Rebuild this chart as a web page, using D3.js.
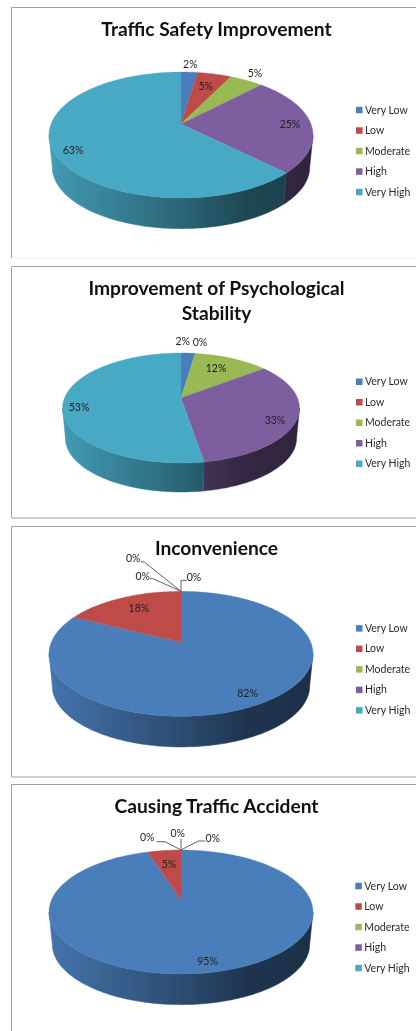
<!DOCTYPE html>
<html>
<head>
<meta charset="utf-8">
<script src="https://cdn.jsdelivr.net/npm/d3@7"></script>
<style>
  html, body { margin: 0; padding: 0; background: #fff; }
  svg { display: block; filter: blur(0.5px); }
  text { font-family: Lato, "Open Sans", sans-serif; }
</style>
</head>
<body>
<script>
const categories = ['Very Low', 'Low', 'Moderate', 'High', 'Very High'];
const colors = ['#4a7ebb', '#be4b48', '#98b954', '#7d5fa0', '#48a9c5'];

const titles = [
  ['Traffic Safety Improvement'],
  ['Improvement of Psychological', 'Stability'],
  ['Inconvenience'],
  ['Causing Traffic Accident']
];

// shares in percent
const trafficSafety = [2.4, 4.9, 4.9, 25.2, 62.6];
const psychological = [2.3, 0, 12.2, 32.9, 52.6];
const inconvenience = [82.4, 17.6, 0, 0, 0];
const causingAccident = [95.1, 4.9, 0, 0, 0];
const seriesValues = [trafficSafety, psychological, inconvenience, causingAccident];

// page layout of each panel: ax/ay is where the slices meet, far/near the
// back and front rim measured from there (the tilt makes them unequal)
const panels = [
  { frame: [7.5, 258], frameBottom: '#f0f0f0', titleY: [29.3], ax: 181, ay: 124, rx: 132, far: 52, near: 74, depth: 32.5, legendX: 356, legendY: 110 },
  { frame: [266.5, 518], frameBottom: '#a0a0a0', titleY: [288.3, 313.3], ax: 181, ay: 398, rx: 118.5, far: 45, near: 65, depth: 30.6, legendX: 356, legendY: 381.7 },
  { frame: [526.5, 777], frameBottom: '#a0a0a0', titleY: [548.3], ax: 181, ay: 642.3, rx: 132, far: 51, near: 74, depth: 32.5, legendX: 356, legendY: 628.3 },
  { frame: [784.5, 1040], frameBottom: '#a0a0a0', titleY: [806.7], ax: 181, ay: 900, rx: 132, far: 50, near: 74, depth: 32.5, legendX: 355.3, legendY: 886 }
];

// label nudges from the middle of each slice's rim, in px
const labelOffsets = [
  [[1, -8], [-8.7, 12], [8.6, -7.3], [-20.7, 1.5], [20.6, 0.7]],
  [[-5.4, -11.4], [4.8, -10.7], [-15.7, 10.4], [-22.2, 1.2], [15.9, 4.9]],
  [[-14.2, -9.7], [16.8, 10.3], [13, -13.7], [-38.3, -15.3], [-47.7, -32.7]],
  [[2, -11.6], [4.7, 13.8], [31.7, -11.7], [-3.3, -16.7], [-33.7, -12.3]]
];

// elbows of the leader lines for the 0% labels, same origin
const leaders = [
  [],
  [],
  [null, null, [[0, -11], [5.7, -11]], [[-28.3, -12.7], [-31, -12.7]], [[-36.7, -29.3], [-40.3, -29.3]]],
  [null, null, [[17.3, -9], [24, -9]], [[0, -11]], [[-16, -8.3], [-24.3, -8.3]]]
];

const width = 416;
const height = 1031;
const wallScale = 0.975;
const step = 0.02;

const svg = d3.select('body').append('svg')
  .attr('width', width)
  .attr('height', height)
  .attr('viewBox', `0 0 ${width} ${height}`);
const defs = svg.append('defs');

const pie = d3.pie().sort(null).value(d => d);
const line = d3.line();
const format = d3.format('.0f');

// circle seen in perspective: maps an angle (clockwise from the top) to the page
function projector(p) {
  const k = (p.far - p.near) / (p.far + p.near);
  const a = p.near * (1 + k);
  const b = p.rx * Math.sqrt(1 - k * k);
  const rim = t => {
    const d = 1 + k * -Math.cos(t);
    return [p.ax + b * Math.sin(t) / d, p.ay - a * Math.cos(t) / d];
  };
  const base = t => {
    const r = rim(t);
    return [p.ax + (r[0] - p.ax) * wallScale, p.ay + p.depth + (r[1] - p.ay) * wallScale];
  };
  return { k, rim, base };
}

function angles(a0, a1) {
  return d3.range(a0, a1, step).concat([a1]);
}

function wallGradient(id, color, p) {
  const c = d3.rgb(color);
  const shade = s => d3.rgb(c.r * s, c.g * s, c.b * s).formatRgb();
  const g = defs.append('linearGradient')
    .attr('id', id)
    .attr('gradientUnits', 'userSpaceOnUse')
    .attr('x1', p.ax - p.rx).attr('x2', p.ax + p.rx)
    .attr('y1', 0).attr('y2', 0);
  [[0, 0.92], [0.5, 0.6], [0.75, 0.42], [1, 0.38]].forEach(s => {
    g.append('stop').attr('offset', s[0]).attr('stop-color', shade(s[1]));
  });
}

function drawPanel(values, idx) {
  const p = panels[idx];
  const g = svg.append('g');
  const proj = projector(p);
  const arcs = pie(values);

  g.append('path')
    .attr('d', `M${width + 10},${p.frame[0]} H11.5 V${p.frame[1]}`)
    .attr('fill', 'none').attr('stroke', '#a0a0a0').attr('stroke-width', 1);
  g.append('path')
    .attr('d', `M12,${p.frame[1]} H${width + 10}`)
    .attr('fill', 'none').attr('stroke', p.frameBottom).attr('stroke-width', 1);

  g.selectAll('text.title').data(titles[idx]).enter()
    .append('text')
    .attr('class', 'title')
    .attr('x', 216.5)
    .attr('y', (d, i) => p.titleY[i])
    .attr('dy', '0.35em')
    .attr('text-anchor', 'middle')
    .attr('font-size', 19.2)
    .attr('font-weight', 700)
    .attr('fill', '#111')
    .text(d => d);

  // side wall, only the part that faces the viewer
  const lo = Math.acos(proj.k);
  const hi = 2 * Math.PI - lo;
  arcs.forEach((d, i) => {
    const a0 = Math.max(d.startAngle, lo);
    const a1 = Math.min(d.endAngle, hi);
    if (a1 <= a0) return;
    const id = `wall-${idx}-${i}`;
    wallGradient(id, colors[i], p);
    const ts = angles(a0, a1);
    const pts = ts.map(proj.rim).concat(ts.slice().reverse().map(proj.base));
    g.append('path')
      .attr('d', line(pts) + 'Z')
      .attr('fill', `url(#${id})`)
      .attr('stroke', `url(#${id})`)
      .attr('stroke-width', 0.5);
  });

  // top face
  arcs.forEach((d, i) => {
    if (d.endAngle <= d.startAngle) return;
    const pts = [[p.ax, p.ay]].concat(angles(d.startAngle, d.endAngle).map(proj.rim));
    g.append('path')
      .attr('d', line(pts) + 'Z')
      .attr('fill', colors[i])
      .attr('stroke', colors[i])
      .attr('stroke-width', 0.3);
  });

  // data labels
  arcs.forEach((d, i) => {
    const mid = proj.rim((d.startAngle + d.endAngle) / 2);
    const off = labelOffsets[idx][i];
    const elbow = leaders[idx][i];
    if (elbow) {
      const pts = [mid].concat(elbow.map(e => [mid[0] + e[0], mid[1] + e[1]]));
      g.append('path')
        .attr('d', line(pts))
        .attr('fill', 'none')
        .attr('stroke', '#606060')
        .attr('stroke-width', 1);
    }
    g.append('text')
      .attr('x', mid[0] + off[0])
      .attr('y', mid[1] + off[1])
      .attr('dy', '0.35em')
      .attr('text-anchor', 'middle')
      .attr('font-size', 10.5)
      .attr('fill', '#222')
      .text(format(d.data) + '%');
  });

  // legend
  const rows = g.selectAll('g.row').data(categories).enter()
    .append('g')
    .attr('class', 'row')
    .attr('transform', (d, i) => `translate(${p.legendX},${p.legendY + i * 20.5})`);
  rows.append('rect')
    .attr('x', 0).attr('y', -3.2)
    .attr('width', 6.5).attr('height', 6.5)
    .attr('fill', (d, i) => colors[i]);
  rows.append('text')
    .attr('x', 9)
    .attr('dy', '0.35em')
    .attr('font-size', 10.5)
    .attr('fill', '#2a2a2a')
    .text(d => d);
}

seriesValues.forEach(drawPanel);
</script>
</body>
</html>
